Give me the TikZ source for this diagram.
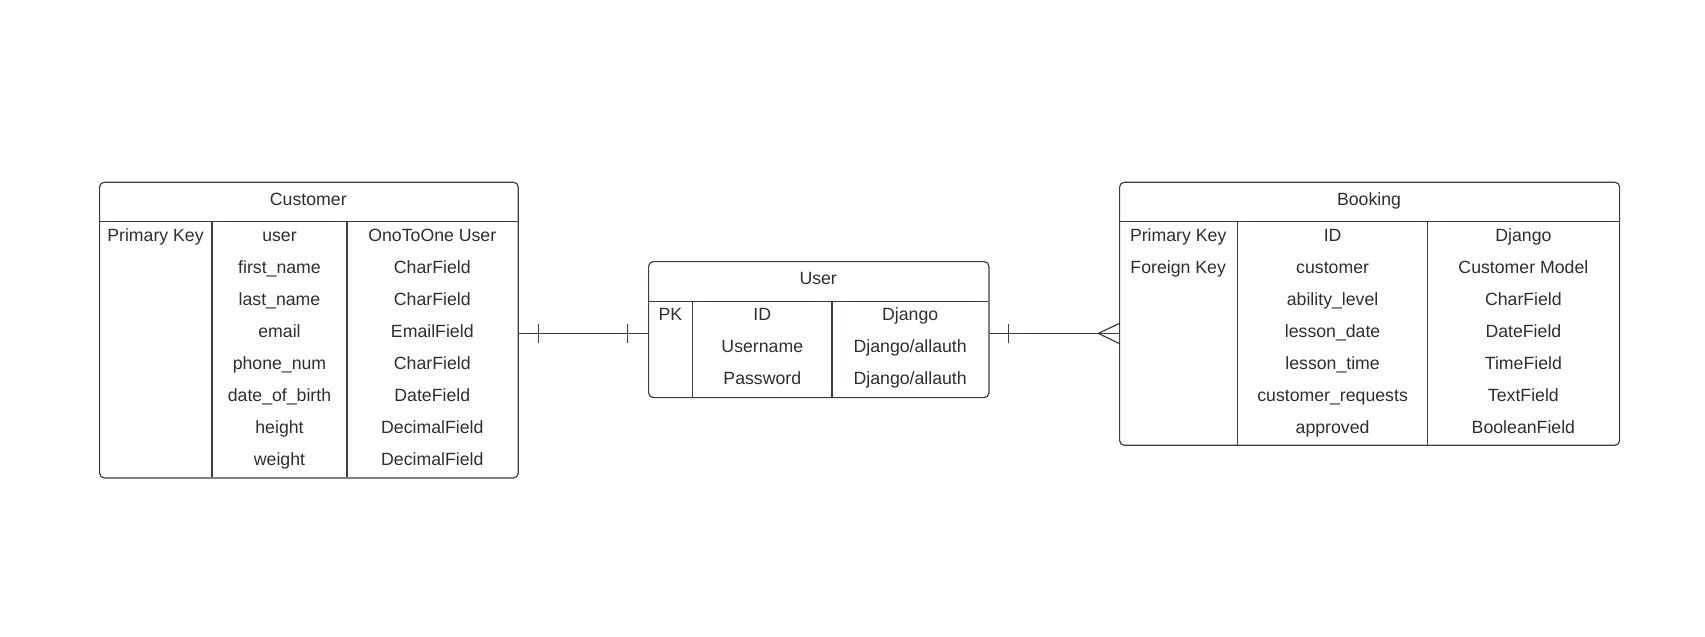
\documentclass[tikz,border=0pt]{standalone}
\usepackage{fontspec}
\setmainfont{Liberation Sans}
\usetikzlibrary{calc}
\definecolor{ln}{HTML}{3A3F47}
\definecolor{tx}{HTML}{2A2E35}
\begin{document}
\begin{tikzpicture}[x=0.5pt,y=-0.5pt,
  tbl/.style={draw=ln, line width=0.6pt, rounded corners=2.4pt, inner sep=0pt, anchor=north west},
  sep/.style={draw=ln, line width=0.6pt},
  cell/.style={text=tx, font=\fontsize{8.85}{10}\selectfont, inner sep=0pt, text height=0.72em, text depth=0pt, anchor=center},
  rel/.style={draw=ln, line width=0.6pt}]
\useasboundingbox (0,0) rectangle (1705,637);

% ---------- Customer ----------
\node[tbl, minimum width=209.3pt, minimum height=147.9pt] (cust) at (99,181.6) {};
\draw[sep] (99,221.8) -- (517.6,221.8);
\draw[sep] (212,221.8) -- (212,477.4);
\draw[sep] (346.9,221.8) -- (346.9,477.4);
\node[cell] (cust-h) at (308.3,198) {Customer};
\node[cell] (cust-k1) at (155.5,234) {Primary Key};
\foreach \n/\f [count=\i] in {user/OnoToOne User, first\_name/CharField, last\_name/CharField, email/EmailField, phone\_num/CharField, date\_of\_birth/DateField, height/DecimalField, weight/DecimalField}{
  \node[cell] (cust-n\i) at (279.5,{234+32*(\i-1)}) {\n};
  \node[cell] (cust-f\i) at (432.3,{234+32*(\i-1)}) {\f};
}

% ---------- User ----------
\node[tbl, minimum width=170.2pt, minimum height=68pt] (user) at (648,261) {};
\draw[sep] (648,301.2) -- (988.4,301.2);
\draw[sep] (692.7,301.2) -- (692.7,397);
\draw[sep] (831.9,301.2) -- (831.9,397);
\node[cell] (user-h) at (818.2,277.5) {User};
\node[cell] (user-k1) at (670.4,313.5) {PK};
\foreach \n/\f [count=\i] in {ID/Django, Username/Django\slash allauth, Password/Django\slash allauth}{
  \node[cell] (user-n\i) at (762.3,{313.5+32*(\i-1)}) {\n};
  \node[cell] (user-f\i) at (910.2,{313.5+32*(\i-1)}) {\f};
}

% ---------- Booking ----------
\node[tbl, minimum width=250pt, minimum height=131.55pt] (book) at (1119,181.6) {};
\draw[sep] (1119,221.8) -- (1619,221.8);
\draw[sep] (1237.5,221.8) -- (1237.5,444.7);
\draw[sep] (1427.8,221.8) -- (1427.8,444.7);
\node[cell] (book-h) at (1369,198) {Booking};
\node[cell] (book-k1) at (1178.2,234) {Primary Key};
\node[cell] (book-k2) at (1178.2,266) {Foreign Key};
\foreach \n/\f [count=\i] in {ID/Django, customer/Customer Model, ability\_level/CharField, lesson\_date/DateField, lesson\_time/TimeField, customer\_requests/TextField, approved/BooleanField}{
  \node[cell] (book-n\i) at (1332.6,{234+32*(\i-1)}) {\n};
  \node[cell] (book-f\i) at (1523.4,{234+32*(\i-1)}) {\f};
}

% ---------- Relations ----------
\coordinate (ry) at (0,333.4);
\coordinate (rt) at (0,323.6);
\coordinate (rb) at (0,343.4);
\draw[rel] (cust.east |- ry) -- (user.west |- ry);
\draw[rel] (538.7,323.6) -- (538.7,343.4);
\draw[rel] (627.7,323.6) -- (627.7,343.4);
\draw[rel] (user.east |- ry) -- (book.west |- ry);
\draw[rel] (1008.5,323.6) -- (1008.5,343.4);
\draw[rel] (book.west |- rt) -- (1098.3,333.4) -- (book.west |- rb);
\end{tikzpicture}
\end{document}
